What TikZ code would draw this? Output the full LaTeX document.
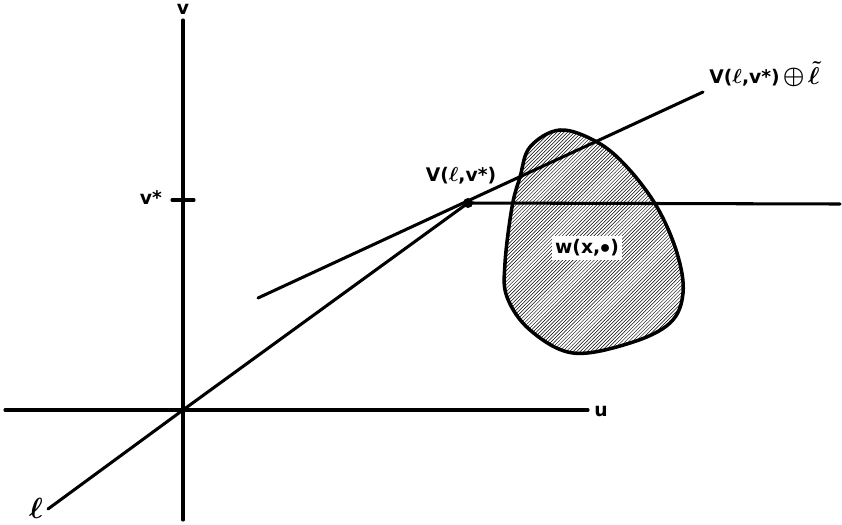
\documentclass[tikz,border=0pt]{standalone}
\usepackage{fontspec}
\usepackage{amsmath}
\setmainfont{DejaVu Sans}
\usetikzlibrary{patterns}
\newcommand{\bell}{{\LARGE$\boldsymbol{\ell}$}}
\tikzset{
  lbl/.style={font=\fontsize{16}{18}\selectfont\bfseries},
  ln/.style={line width=2.6pt, line cap=round}
}
\begin{document}
\begin{tikzpicture}[x=0.03cm,y=-0.03cm]
    \useasboundingbox (0,0) rectangle (842,524);
    % points
    \coordinate (O) at (183,410);
    \coordinate (V) at (468,203);
    \coordinate (vtop) at (183,20);
    \coordinate (vbot) at (183,520);
    \coordinate (uleft) at (5,410);
    \coordinate (uright) at (588,410);
    \coordinate (lend) at (48,509);
    \coordinate (hend) at (840,204);
    \coordinate (tleft) at (258,298);
    \coordinate (tright) at (703,92);
    % region w(x,.)
    \path[pattern=north east lines] plot[smooth cycle, tension=0.6] coordinates {
      (560,130) (597,142) (627,167) (657,207) (677,253) (683,293) (670,323)
      (630,343) (573,353) (530,330) (507,297) (505,263) (512,207) (520,177) (530,147)};
    \draw[line width=3pt] plot[smooth cycle, tension=0.6] coordinates {
      (560,130) (597,142) (627,167) (657,207) (677,253) (683,293) (670,323)
      (630,343) (573,353) (530,330) (507,297) (505,263) (512,207) (520,177) (530,147)};
    % axes
    \draw[ln] (vtop) -- (vbot);
    \draw[ln] (uleft) -- (uright);
    \node[lbl] (vlab) at (183,9) {v};
    \node[lbl] (ulab) at (601,411) {u};
    % tick v*
    \draw[ln] (172,200) -- (194,200);
    \node[lbl] (vstar) at (151,198) {v*};
    % lines
    \draw[ln] (lend) -- (O) -- (V);
    \draw[ln] (V) -- (hend);
    \draw[ln] (tleft) -- (tright);
    \fill (V) circle (5);
    % labels
    \node[font=\Huge, inner sep=1pt] (ell) at (36,508) {$\boldsymbol{\ell}$};
    \node[lbl] (Vlab) at (461,176) {V(\bell,v*)};
    \node[lbl, anchor=west, inner sep=1pt] (Vsum) at (708,74) {V(\bell,v*)\,{\huge$\boldsymbol{\oplus}$}\kern3pt\raisebox{-1pt}{\huge$\boldsymbol{\tilde{\ell}}$}};
    \node[lbl, fill=white, inner sep=3pt] (wlab) at (587,248) {w(x,$\bullet$)};
  \end{tikzpicture}
\end{document}
